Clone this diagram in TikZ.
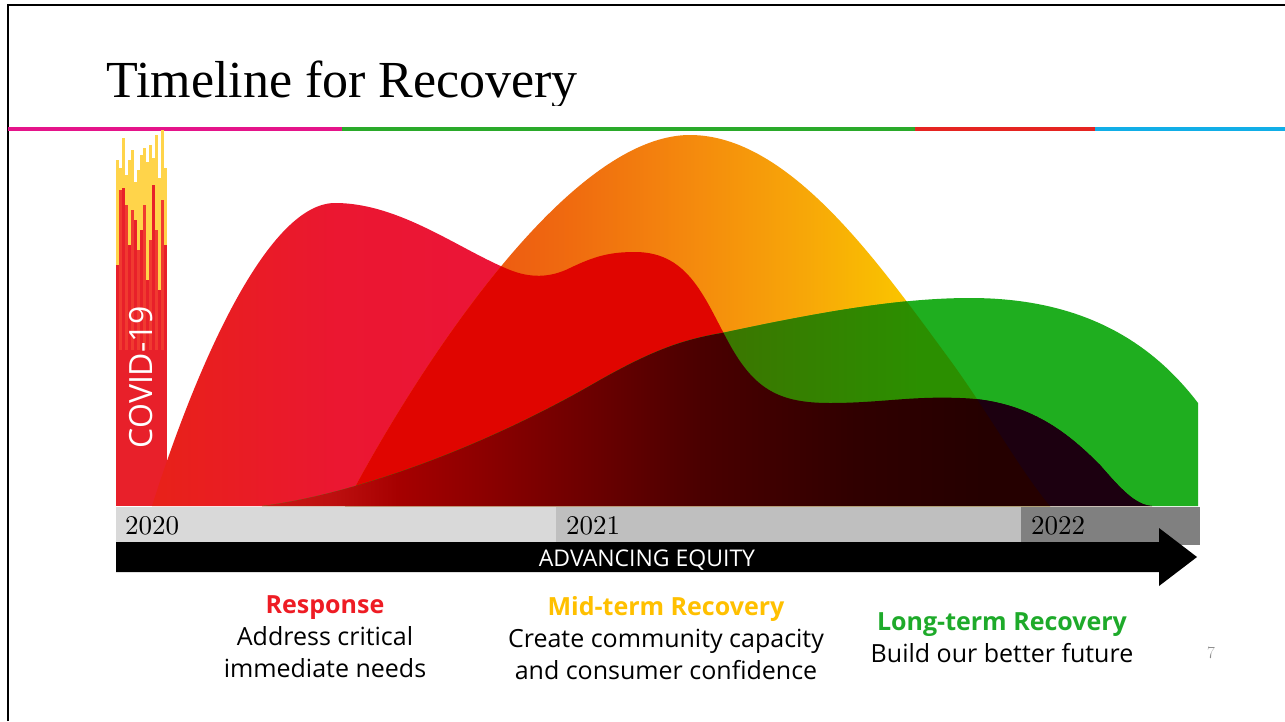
\documentclass[tikz,border=0pt]{standalone}
\usepackage{fontspec}
\newfontfamily\titlefont{Liberation Serif}
\newfontfamily\uifont{Open Sans}
\newfontfamily\yearfont{lmroman10-regular.otf}

\definecolor{hdmag}{HTML}{E5148A}
\definecolor{hdgreen}{HTML}{2AAA2A}
\definecolor{hdred}{HTML}{E52421}
\definecolor{hdcyan}{HTML}{11AEE7}
\definecolor{covidred}{HTML}{E8202A}
\definecolor{covidmid}{HTML}{F03A30}
\definecolor{covidtip}{HTML}{FFD44A}
\definecolor{mixred}{HTML}{E00500}
\definecolor{longgreen}{HTML}{1FAE1F}
\definecolor{nightred}{HTML}{1C0010}
\definecolor{resptext}{HTML}{EE1C24}
\definecolor{midtext}{HTML}{FFC000}
\definecolor{longtext}{HTML}{1EAA2A}
\definecolor{yrA}{HTML}{D9D9D9}
\definecolor{yrB}{HTML}{BFBFBF}
\definecolor{yrC}{HTML}{808080}
\definecolor{pagegray}{HTML}{8C8C8C}

\pgfdeclarehorizontalshading{respfade}{100bp}{rgb(0bp)=(0.91,0.13,0.10); rgb(27bp)=(0.91,0.13,0.10); rgb(35bp)=(0.92,0.09,0.19); rgb(43bp)=(0.92,0.08,0.22); rgb(100bp)=(0.92,0.08,0.22)}
\pgfdeclarehorizontalshading{midfade}{100bp}{rgb(0bp)=(0.91,0.31,0.10); rgb(36bp)=(0.91,0.31,0.10); rgb(42bp)=(0.93,0.35,0.07); rgb(46bp)=(0.94,0.42,0.06); rgb(52bp)=(0.96,0.55,0.05); rgb(57bp)=(0.97,0.66,0.03); rgb(61bp)=(0.98,0.76,0.0); rgb(100bp)=(0.98,0.76,0.0)}
\pgfdeclarehorizontalshading{olivefade}{100bp}{rgb(0bp)=(0.24,0.45,0.0); rgb(52bp)=(0.24,0.45,0.0); rgb(62bp)=(0.17,0.56,0.0); rgb(100bp)=(0.17,0.56,0.0)}
\pgfdeclarehorizontalshading{darkfade}{100bp}{rgb(0bp)=(0.80,0.10,0.08); rgb(31bp)=(0.80,0.10,0.08); rgb(35bp)=(0.74,0.06,0.06); rgb(38bp)=(0.65,0.0,0.0); rgb(45bp)=(0.47,0.0,0.0); rgb(52bp)=(0.29,0.0,0.0); rgb(59bp)=(0.19,0.0,0.0); rgb(65bp)=(0.145,0.0,0.0); rgb(100bp)=(0.13,0.0,0.0)}

\newcommand\resppath{(152,506) .. controls (200,355) and (270,203) .. (335,203)
  .. controls (400,203) and (460,250) .. (510,270) .. controls (530,278) and (550,278) .. (570,268)
  .. controls (595,256) and (610,252) .. (635,252) .. controls (690,252) and (705,300) .. (730,345)
  .. controls (755,390) and (780,403) .. (830,403) .. controls (880,403) and (910,396) .. (960,398)
  .. controls (1030,400) and (1070,435) .. (1100,465) .. controls (1120,488) and (1135,505) .. (1152,506) -- cycle}
\newcommand\midpath{(345,506) .. controls (400,400) and (560,135) .. (690,135)
  .. controls (790,135) and (880,265) .. (950,360) .. controls (990,415) and (1020,470) .. (1050,506) -- cycle}
\newcommand\pastmid{(690,135) .. controls (790,135) and (880,265) .. (950,360)
  .. controls (990,415) and (1020,470) .. (1050,506) -- (1200,506) -- (1200,130) -- cycle}
\newcommand\longpath{(262,506) .. controls (350,495) and (480,450) .. (600,380)
  .. controls (650,352) and (680,340) .. (722,333) .. controls (820,312) and (900,298) .. (970,298)
  .. controls (1080,298) and (1150,340) .. (1198,403) -- (1198,506) -- cycle}

\begin{document}
\begin{tikzpicture}[x=1pt,y=-1pt,
  strip/.style={line width=4pt},
  year/.style={anchor=base west,inner sep=0pt,font=\yearfont\fontsize{27}{27}\selectfont},
  head/.style={anchor=base,inner sep=0pt,font=\uifont\bfseries\fontsize{25}{32}\selectfont},
  body/.style={anchor=base,align=center,inner sep=0pt,font=\uifont\fontsize{25}{32}\selectfont}]

\useasboundingbox[fill=white] (0,0) rectangle (1285,721);
\draw[line width=2.5pt] (8,721) -- (8,5) -- (1285,5);

\begin{scope}
  \clip (0,0) rectangle (1285,105);
  \node[anchor=base west,inner sep=0pt,font=\titlefont\fontsize{52}{52}\selectfont] (title) at (106,97) {Timeline for Recovery};
\end{scope}

\foreach \a/\b/\c in {8/342/hdmag,342/915/hdgreen,915/1095/hdred,1095/1285/hdcyan}
  \draw[strip,\c] (\a,129) -- (\b,129);

% covid bar with its ragged top
\fill[covidred] (116,350) rectangle (167,506);
\foreach \x/\t/\r/\c in {116/160/265/covidred,119/168/190/covidmid,122/138/188/covidred,
  125/175/205/covidmid,128/160/245/covidred,131/150/210/covidmid,134/182/220/covidred,
  137/170/250/covidmid,140/155/230/covidred,143/148/205/covidmid,146/162/280/covidred,
  149/145/240/covidmid,152/158/185/covidred,155/135/230/covidmid,158/178/290/covidred,
  161/130/200/covidmid,164/168/245/covidred} {
  \fill[covidtip] (\x,\t) rectangle (\x+3,\r);
  \fill[\c] (\x,\r) rectangle (\x+3,350);
}
\node[rotate=90,anchor=base,inner sep=0pt,text=white,font=\uifont\fontsize{32}{32}\selectfont] (covid) at (152,377) {COVID-19};

% the three phases
\begin{scope}
  \clip \resppath;
  \shade[shading=respfade] (116,130) rectangle (1200,506);
\end{scope}
\begin{scope}
  \clip \midpath;
  \shade[shading=midfade] (116,130) rectangle (1200,506);
\end{scope}
\begin{scope}
  \clip \midpath;
  \fill[mixred] \resppath;
\end{scope}
\fill[longgreen] \longpath;
\begin{scope}
  \clip \longpath;
  \clip \midpath;
  \shade[shading=olivefade] (116,130) rectangle (1200,506);
\end{scope}
\begin{scope}
  \clip \longpath;
  \clip \resppath;
  \shade[shading=darkfade] (116,130) rectangle (1200,506);
  \clip \pastmid;
  \fill[nightred] (116,130) rectangle (1200,506);
\end{scope}

% years and arrow
\fill[yrA] (116,507) rectangle (556,543);
\fill[yrB] (556,507) rectangle (1021,543);
\fill[yrC] (1021,507) rectangle (1200,545);
\node[year] (y2020) at (125,534) {2020};
\node[year] (y2021) at (566,534) {2021};
\node[year] (y2022) at (1031,534) {2022};

\fill (116,542) -- (1159,542) -- (1159,528) -- (1197,557) -- (1159,586) -- (1159,572) -- (116,572) -- cycle;
\node[anchor=base,inner sep=0pt,text=white,font=\uifont\fontsize{23}{23}\selectfont] (equity) at (647,566) {ADVANCING EQUITY};

\node[head,text=resptext] (resp) at (325,613) {Response};
\node[body] (respbody) at (325,677) {Address critical\\immediate needs};
\node[head,text=midtext] (mid) at (666,615) {Mid-term Recovery};
\node[body] (midbody) at (666,679) {Create community capacity\\and consumer confidence};
\node[head,text=longtext] (long) at (1002,630) {Long-term Recovery};
\node[body] (longbody) at (1002,662) {Build our better future};

\node[anchor=base,inner sep=0pt,text=pagegray,font=\fontsize{17}{17}\selectfont] (pgnum) at (1211,658) {7};

\end{tikzpicture}
\end{document}
